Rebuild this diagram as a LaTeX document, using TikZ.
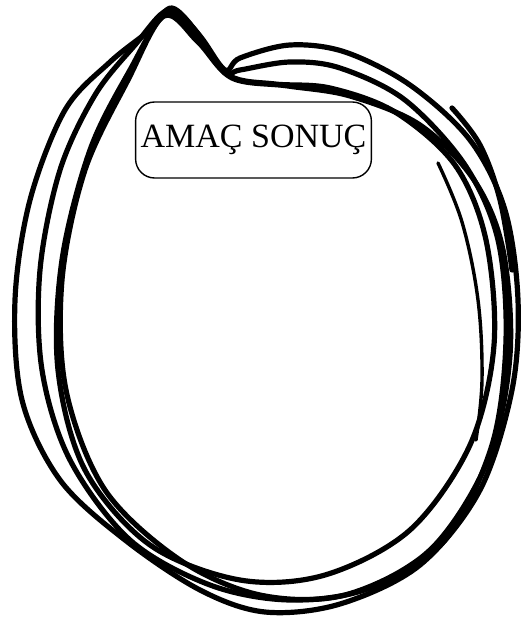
\documentclass[tikz,border=0pt]{standalone}
\usepackage{fontspec}
\setmainfont{Liberation Serif}
\usepackage{tikz}
\usetikzlibrary{positioning, calc}

\tikzset{
  scribble/.style={line width=5.2pt, line cap=round, line join=round},
  thinscribble/.style={line width=3.4pt, line cap=round},
  goalbox/.style={draw, line width=1.4pt, rounded corners=19pt,
    inner xsep=5pt, minimum height=76pt, font=\fontsize{34}{40}\selectfont}
}

\begin{document}
\begin{tikzpicture}[x=1pt, y=-1pt]
\useasboundingbox (0,0) rectangle (520,621);

% dış halka
\draw[scribble] plot[smooth cycle, tension=0.55] coordinates {
  (172,8) (150,30) (110,62) (65,110) (30,200) (15,300) (22,400) (60,480)
  (125,540) (200,590) (265,612) (340,604) (420,565) (480,490) (512,390)
  (518,300) (505,210) (470,140) (410,85) (345,52) (290,45) (240,58)
  (225,70) (200,36)};

% ikinci halka
\draw[scribble] plot[smooth cycle, tension=0.55] coordinates {
  (168,10) (135,45) (95,95) (60,170) (40,270) (42,370) (70,460)
  (130,540) (210,585) (290,600) (370,588) (445,540) (492,445) (506,340)
  (498,240) (465,165) (405,100) (340,68) (290,62) (240,70) (224,72)
  (195,30)};

% iç halkalar
\draw[scribble] plot[smooth cycle, tension=0.55] coordinates {
  (166,14) (130,70) (90,150) (62,260) (58,370) (85,470) (150,545)
  (240,580) (325,575) (410,530) (470,445) (494,345) (486,240) (455,165)
  (395,112) (330,88) (275,84) (230,76) (200,40)};
\draw[scribble] plot[smooth cycle, tension=0.55] coordinates {
  (164,16) (128,80) (85,170) (62,280) (66,390) (105,490) (180,560)
  (260,595) (345,595) (430,550) (488,460) (510,355) (503,250) (474,180)
  (420,125) (350,96) (288,86) (232,78) (198,42)};

% sağdaki açık çizgiler
\draw[thinscribble] plot[smooth, tension=0.6] coordinates {
  (438,163) (462,222) (478,300) (482,380) (476,440)};
\draw[scribble] plot[smooth, tension=0.6] coordinates {
  (452,108) (480,145) (500,200) (512,270)};

% etiket
\node[goalbox] (goal) at (253.5,140) {AMAÇ SONUÇ};

\end{tikzpicture}
\end{document}
